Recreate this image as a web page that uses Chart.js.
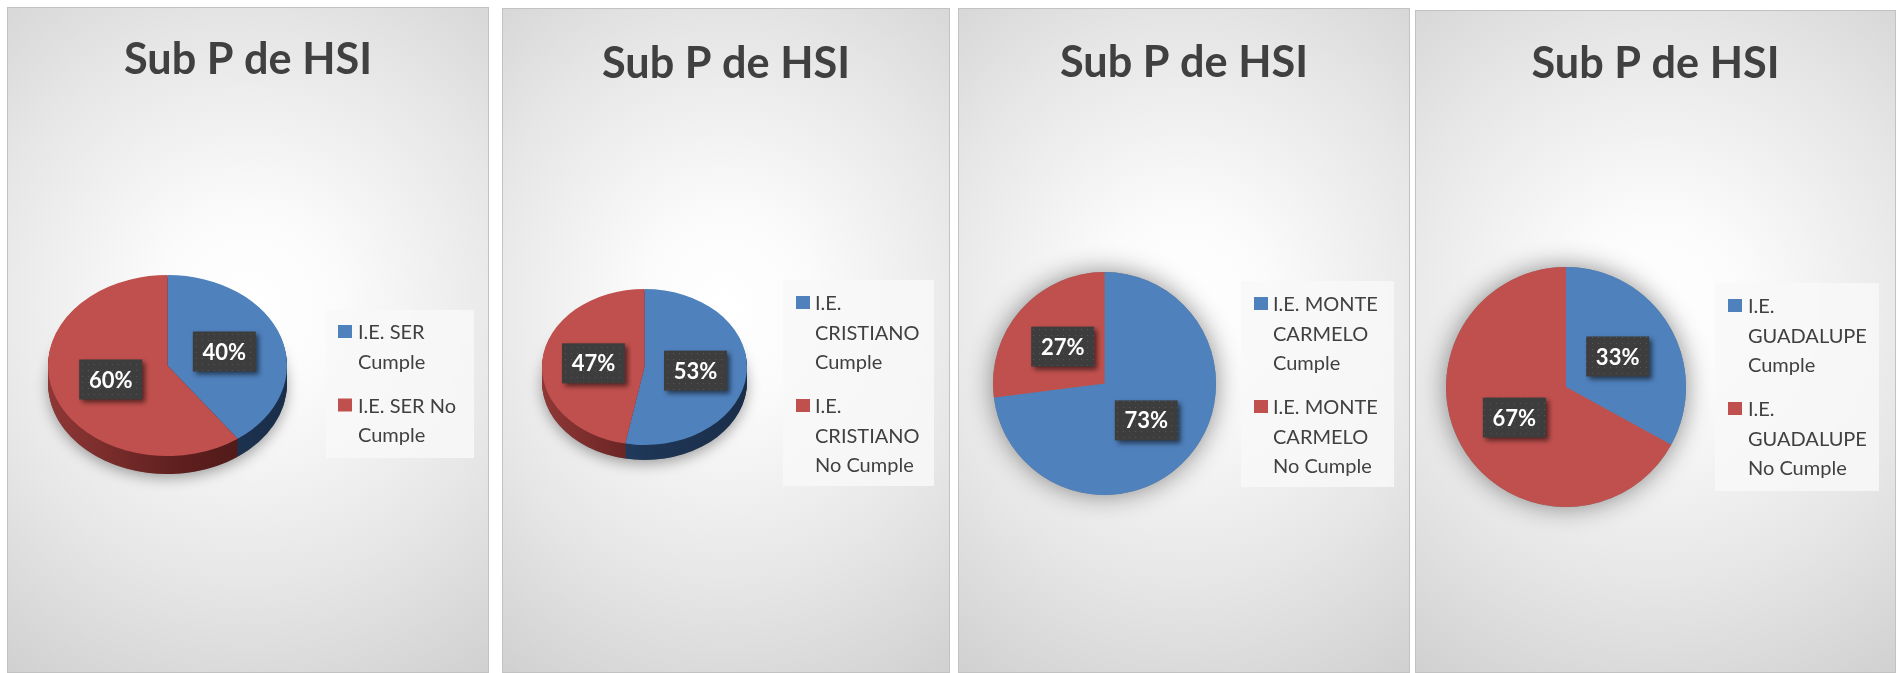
<!DOCTYPE html>
<html>
<head>
<meta charset="utf-8">
<script src="https://cdn.jsdelivr.net/npm/chart.js@4.4.1/dist/chart.umd.min.js"></script>
<style>
  body { margin: 0; background: #ffffff; width: 1897px; height: 673px; overflow: hidden; position: relative; }
  .panel {
    position: absolute;
    box-sizing: border-box;
    border: 1px solid #c2c2c2;
    background: radial-gradient(ellipse 95% 70% at 50% 45%, #ffffff 0%, #fbfbfb 20%, #e6e6e6 60%, #cdcdcd 100%);
  }
</style>
</head>
<body>
<div class="panel" id="p1"><canvas id="c1"></canvas></div>
<div class="panel" id="p2"><canvas id="c2"></canvas></div>
<div class="panel" id="p3"><canvas id="c3"></canvas></div>
<div class="panel" id="p4"><canvas id="c4"></canvas></div>
<script>
// ---- data ----
const chartTitle = 'Sub P de HSI';

const serLabels = [['I.E. SER', 'Cumple'], ['I.E. SER No', 'Cumple']];
const serValues = [40, 60];

const cristianoLabels = [['I.E.', 'CRISTIANO', 'Cumple'], ['I.E.', 'CRISTIANO', 'No Cumple']];
const cristianoValues = [53, 47];

const monteLabels = [['I.E. MONTE', 'CARMELO', 'Cumple'], ['I.E. MONTE', 'CARMELO', 'No Cumple']];
const monteValues = [73, 27];

const guadalupeLabels = [['I.E.', 'GUADALUPE', 'Cumple'], ['I.E.', 'GUADALUPE', 'No Cumple']];
const guadalupeValues = [33, 67];

const sliceColors = ['#4F81BD', '#C0504D'];

// ---- layout of each panel (pixels, local to the panel) ----
const panels = [
    { id: 'p1', canvas: 'c1', x: 7, y: 7, w: 482, h: 666, labels: serLabels, values: serValues,
      cx: 159.5, cy: 357.5, r: 119.5, ry: 90.5, depth: 18, titleY: 66,
      legend: { x: 318, y: 302, w: 148, h: 148, sx: 330, tx: 350, base: 331 } },
    { id: 'p2', canvas: 'c2', x: 502, y: 8, w: 448, h: 665, labels: cristianoLabels, values: cristianoValues,
      cx: 141.5, cy: 358, r: 102.5, ry: 78, depth: 15, titleY: 69,
      legend: { x: 280, y: 271, w: 151, h: 206, sx: 293, tx: 312, base: 301 } },
    { id: 'p3', canvas: 'c3', x: 958, y: 8, w: 452, h: 665, labels: monteLabels, values: monteValues,
      cx: 145.5, cy: 374.5, r: 111.5, ry: 111.5, depth: 0, titleY: 68,
      legend: { x: 282, y: 272, w: 153, h: 206, sx: 295, tx: 314, base: 302 } },
    { id: 'p4', canvas: 'c4', x: 1415, y: 10, w: 481, h: 663, labels: guadalupeLabels, values: guadalupeValues,
      cx: 150, cy: 376, r: 120, ry: 120, depth: 0, titleY: 67,
      legend: { x: 299, y: 272, w: 164, h: 208, sx: 312, tx: 332, base: 302 } }
];

const sideStops = [
    ['#2a4770', '#1e3554', '#1a2e49'],
    ['#8f3836', '#5e1f1e', '#471716']
];

// dotted fill for the data label boxes
function makeDotPattern(ctx) {
    const p = document.createElement('canvas');
    p.width = 6; p.height = 6;
    const pc = p.getContext('2d');
    pc.fillStyle = '#3d3d3d';
    pc.fillRect(0, 0, 6, 6);
    pc.fillStyle = '#565656';
    pc.fillRect(2, 2, 1, 1);
    return ctx.createPattern(p, 'repeat');
}

const pieDecor = {
    id: 'pieDecor',
    beforeDatasetsDraw(chart, args, opts) {
        const ctx = chart.ctx;
        const arcs = chart.getDatasetMeta(0).data;
        const cx = arcs[0].x, cy = arcs[0].y, r = arcs[0].outerRadius;
        const sy = opts.ry / r;

        // soft shadow under the pie
        ctx.save();
        ctx.shadowColor = opts.depth ? 'rgba(0,0,0,0.35)' : 'rgba(0,0,0,0.45)';
        ctx.shadowBlur = opts.depth ? 14 : 26;
        ctx.shadowOffsetY = opts.depth ? 4 : 0;
        ctx.fillStyle = '#777';
        ctx.beginPath();
        ctx.ellipse(cx, cy + opts.depth, r, opts.ry, 0, 0, Math.PI * 2);
        ctx.fill();
        ctx.restore();

        // side walls for the tilted pies
        for (let k = opts.depth; k >= 1; k--) {
            ctx.save();
            ctx.translate(cx, cy + k);
            ctx.scale(1, sy);
            ctx.translate(-cx, -cy);
            arcs.forEach((arc, i) => {
                const g = ctx.createLinearGradient(cx - r, 0, cx + r, 0);
                g.addColorStop(0, sideStops[i][0]);
                g.addColorStop(0.55, sideStops[i][1]);
                g.addColorStop(1, sideStops[i][2]);
                ctx.fillStyle = g;
                ctx.beginPath();
                ctx.moveTo(cx, cy);
                ctx.arc(cx, cy, r, arc.startAngle, arc.endAngle);
                ctx.closePath();
                ctx.fill();
            });
            ctx.restore();
        }

        // squash the top face into an ellipse
        ctx.save();
        ctx.translate(cx, cy);
        ctx.scale(1, sy);
        ctx.translate(-cx, -cy);
    },
    afterDatasetsDraw(chart, args, opts) {
        const ctx = chart.ctx;
        ctx.restore();

        const arcs = chart.getDatasetMeta(0).data;
        const values = chart.data.datasets[0].data;
        const cx = arcs[0].x, cy = arcs[0].y, r = arcs[0].outerRadius;
        const pattern = makeDotPattern(ctx);

        arcs.forEach((arc, i) => {
            const mid = (arc.startAngle + arc.endAngle) / 2;
            const lx = cx + Math.cos(mid) * r * 0.5;
            const ly = cy + Math.sin(mid) * opts.ry * 0.5;
            ctx.save();
            ctx.shadowColor = 'rgba(0,0,0,0.55)';
            ctx.shadowBlur = 5;
            ctx.shadowOffsetX = 3;
            ctx.shadowOffsetY = 3;
            ctx.fillStyle = pattern;
            ctx.fillRect(lx - 31.5, ly - 20, 63, 40);
            ctx.restore();
            ctx.fillStyle = '#ffffff';
            ctx.font = 'bold 22px Lato';
            ctx.textAlign = 'center';
            ctx.textBaseline = 'middle';
            ctx.fillText(values[i] + '%', lx, ly + 1);
        });
    },
    afterDraw(chart, args, opts) {
        const ctx = chart.ctx;
        // title
        ctx.save();
        ctx.fillStyle = '#404040';
        ctx.font = 'bold 44px Lato';
        ctx.textAlign = 'center';
        ctx.textBaseline = 'alphabetic';
        ctx.fillText(opts.title, chart.width / 2, opts.titleY, 248);
        ctx.restore();

        // legend
        const lg = opts.legend;
        ctx.save();
        ctx.fillStyle = 'rgba(248,248,248,0.85)';
        ctx.fillRect(lg.x, lg.y, lg.w, lg.h);
        ctx.font = '20px Lato';
        ctx.textAlign = 'left';
        ctx.textBaseline = 'alphabetic';
        let base = lg.base;
        chart.data.labels.forEach((lines, i) => {
            ctx.fillStyle = chart.data.datasets[0].backgroundColor[i];
            ctx.fillRect(lg.sx, base - 14, 14, 13);
            ctx.fillStyle = '#404040';
            lines.forEach((line, j) => {
                ctx.fillText(line, lg.tx, base);
                if (j < lines.length - 1) base += 29.5;
            });
            base += 44;
        });
        ctx.restore();
    }
};

panels.forEach(p => {
    const el = document.getElementById(p.id);
    el.style.left = p.x + 'px';
    el.style.top = p.y + 'px';
    el.style.width = p.w + 'px';
    el.style.height = p.h + 'px';

    const innerW = p.w - 2, innerH = p.h - 2;
    new Chart(document.getElementById(p.canvas), {
        type: 'pie',
        data: {
            labels: p.labels,
            datasets: [{
                data: p.values,
                backgroundColor: sliceColors,
                borderWidth: 0,
                hoverOffset: 0
            }]
        },
        options: {
            responsive: true,
            maintainAspectRatio: false,
            animation: false,
            events: [],
            layout: {
                padding: {
                    left: p.cx - p.r,
                    right: innerW - p.cx - p.r,
                    top: p.cy - p.r,
                    bottom: innerH - p.cy - p.r
                }
            },
            plugins: {
                legend: { display: false },
                tooltip: { enabled: false },
                pieDecor: { ry: p.ry, depth: p.depth, title: chartTitle, titleY: p.titleY, legend: p.legend }
            }
        },
        plugins: [pieDecor]
    });
});
</script>
</body>
</html>
